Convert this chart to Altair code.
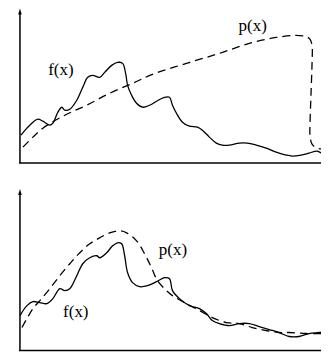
import altair as alt
import pandas as pd

# ---- data (x: distance right of y axis, y: height above x axis) ----
top_f_x = [1, 7, 13, 18, 23, 30, 33, 38, 42, 45, 50, 57, 63, 68, 73, 80, 85, 92, 98, 103, 106, 108, 112, 117,
           123, 130, 137, 145, 150, 153, 157, 163, 170, 178, 183, 190, 197, 203, 210, 220, 228, 237, 247, 257,
           267, 273, 282, 290, 298, 303, 310]
top_f_y = [28, 35, 41, 44, 42, 38, 40, 51, 56, 53, 54, 63, 76, 86, 88, 86, 91, 98, 101, 100, 90, 78, 68, 60,
           56, 58, 62, 66, 66, 58, 50, 41, 37, 36, 33, 26, 20, 18, 18, 20, 20, 18, 15, 11,
           8, 7, 8, 10, 12, 10, 11]

top_p_x = [3, 13, 23, 45, 67, 90, 113, 133, 167, 200, 230, 257, 277, 287, 291, 293, 293, 292, 291, 291, 293,
           298, 305, 310]
top_p_y = [16, 26, 35, 48, 58, 70, 80, 89, 100, 110, 120, 126, 128, 127, 124, 118, 100, 70, 40, 27, 19,
           15, 14, 13]

bot_f_x = [0, 7, 13, 20, 27, 33, 40, 45, 50, 57, 63, 70, 77, 80, 87, 93, 98, 102, 105, 108, 113, 120, 128,
           137, 145, 150, 153, 160, 170, 180, 187, 193, 200, 210, 220, 230, 240, 250, 260, 270, 280, 290,
           300, 310]
bot_f_y = [35, 45, 49, 48, 47, 52, 62, 60, 62, 75, 87, 93, 95, 93, 98, 105, 108, 107, 95, 78, 68, 64, 65,
           69, 73, 72, 60, 52, 45, 42, 37, 30, 27, 25, 27, 27, 24, 21, 18, 14, 14, 17,
           18, 19]

bot_p_x = [2, 7, 13, 20, 30, 40, 50, 60, 70, 80, 90, 100, 107, 117, 125, 132, 138, 147, 153, 167, 180, 193,
           207, 220, 233, 247, 260, 270, 287, 303, 310]
bot_p_y = [23, 32, 42, 50, 62, 75, 87, 98, 107, 113, 118, 120, 118, 110, 97, 83, 70, 60, 55, 47, 40, 33,
           28, 27, 23, 20, 18, 18, 17, 17, 17]

top_labels = ["f(x)", "p(x)"]
top_label_x = [41, 233.5]
top_label_y = [88, 132]
bot_labels = ["p(x)", "f(x)"]
bot_label_x = [153.5, 56]
bot_label_y = [95.5, 34]

X_DOMAIN = [-12, 302]
W = 314


def panel(fx, fy, px, py, lx, ly, labels, height):
    xs = alt.Scale(domain=X_DOMAIN, nice=False, zero=False)
    ys = alt.Scale(domain=[0, height], nice=False, zero=False)
    X = lambda f: alt.X(f, type="quantitative", scale=xs, axis=None)
    Y = lambda f: alt.Y(f, type="quantitative", scale=ys, axis=None)

    fdf = pd.DataFrame({"x": fx, "y": fy, "i": range(len(fx))})
    pdf = pd.DataFrame({"x": px, "y": py, "i": range(len(px))})
    ldf = pd.DataFrame({"x": lx, "y": ly, "t": labels})
    yaxis_df = pd.DataFrame({"x": [0], "y": [0], "y2": [height - 4]})
    xaxis_df = pd.DataFrame({"x": [-1], "x2": [X_DOMAIN[1]], "y": [0]})
    arrow_df = pd.DataFrame({"x": [0], "y": [height - 3]})

    f_line = alt.Chart(fdf).mark_line(color="black", strokeWidth=1.3, interpolate="catmull-rom",
                                      clip=True).encode(
        x=X("x"), y=Y("y"), order="i:Q")
    p_line = alt.Chart(pdf).mark_line(color="black", strokeWidth=1.3, strokeDash=[8, 5],
                                      interpolate="catmull-rom", clip=True).encode(
        x=X("x"), y=Y("y"), order="i:Q")
    yaxis = alt.Chart(yaxis_df).mark_rule(color="black", strokeWidth=1.5).encode(
        x=X("x"), y=Y("y"), y2="y2")
    xaxis = alt.Chart(xaxis_df).mark_rule(color="black", strokeWidth=1.5).encode(
        x=X("x"), x2="x2", y=Y("y"))
    arrow = alt.Chart(arrow_df).mark_point(shape="M0,-1L0.6,1L-0.6,1Z", filled=True, color="black",
                                           opacity=1, size=36).encode(x=X("x"), y=Y("y"))
    text = alt.Chart(ldf).mark_text(font="Liberation Serif", fontSize=17, color="black",
                                    align="center", baseline="alphabetic").encode(
        x=X("x"), y=Y("y"), text="t:N")
    return alt.layer(xaxis, yaxis, arrow, p_line, f_line, text).properties(width=W, height=height)


top = panel(top_f_x, top_f_y, top_p_x, top_p_y, top_label_x, top_label_y, top_labels, 155)
bottom = panel(bot_f_x, bot_f_y, bot_p_x, bot_p_y, bot_label_x, bot_label_y, bot_labels, 162)

chart = alt.vconcat(top, bottom, spacing=24).properties(padding=0).configure_view(stroke=None)

chart.save("out.html", embed_options={"renderer": "svg", "actions": False})
